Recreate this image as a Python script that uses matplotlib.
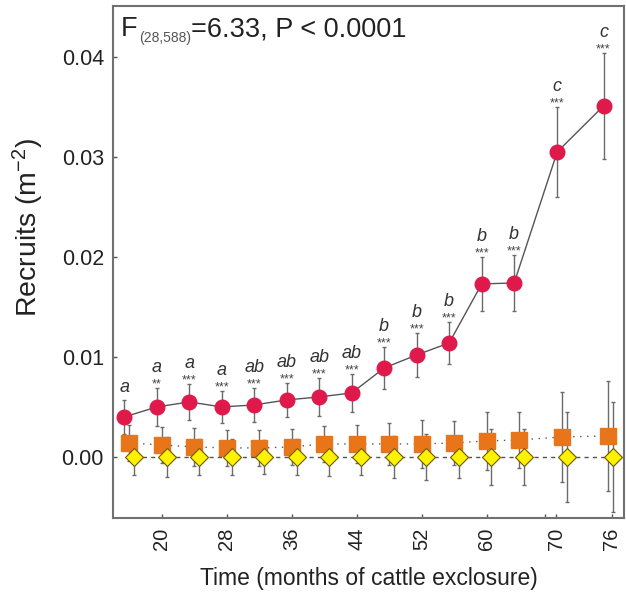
import matplotlib.pyplot as plt

plt.rcParams['font.family'] = ['Liberation Sans', 'DejaVu Sans']
plt.rcParams['mathtext.fontset'] = 'custom'
plt.rcParams['mathtext.rm'] = 'Liberation Sans'
plt.rcParams['mathtext.it'] = 'Liberation Sans:italic'

# sampling times (months of cattle exclosure)
months = [16, 20, 24, 28, 32, 36, 40, 44, 48, 52, 56, 60, 64, 69.3, 75]

# recruits per m2, mean and error
circle_mean = [0.0040, 0.0050, 0.0055, 0.0050, 0.0052, 0.0057, 0.0060, 0.0064,
               0.0089, 0.0102, 0.0114, 0.0173, 0.0174, 0.0305, 0.0351]
circle_err = [0.0017, 0.0019, 0.0018, 0.0016, 0.0017, 0.0017, 0.0019, 0.0019,
              0.0021, 0.0022, 0.0021, 0.0027, 0.0028, 0.0045, 0.0053]

square_mean = [0.0014, 0.0012, 0.0010, 0.0009, 0.0009, 0.0010, 0.0013, 0.0013,
               0.0013, 0.0013, 0.0014, 0.0016, 0.0017, 0.0020, 0.0021]
square_err = [0.0018, 0.0018, 0.0019, 0.0018, 0.0018, 0.0018, 0.0018, 0.0019,
              0.0021, 0.0024, 0.0022, 0.0029, 0.0028, 0.0045, 0.0055]

diamond_mean = [0.0, 0.0, 0.0, 0.0, 0.0, 0.0, 0.0, 0.0,
                0.0, 0.0, 0.0, 0.0, 0.0, 0.0, 0.0]
diamond_err = [0.0018, 0.0020, 0.0018, 0.0018, 0.0017, 0.0018, 0.0019, 0.0018,
               0.0021, 0.0023, 0.0021, 0.0028, 0.0028, 0.0045, 0.0055]

letters = ['a', 'a', 'a', 'a', 'ab', 'ab', 'ab', 'ab',
           'b', 'b', 'b', 'b', 'b', 'c', 'c']
stars = ['', '**', '***', '***', '***', '***', '***', '***',
         '***', '***', '***', '***', '***', '***', '***']

tick_pos = [20, 28, 36, 44, 52, 60, 67.2, 68.6, 75.4]
tick_labels = ['20', '28', '36', '44', '52', '60', '', '70', '76']

dodge = 0.6
x_circle = [m - dodge for m in months]
x_square = months
x_diamond = [m + dodge for m in months]

fig = plt.figure(figsize=(6.26, 5.96), dpi=100)
ax = fig.add_axes([0.1805, 0.131, 0.816, 0.859])

bar_kw = dict(fmt='none', ecolor='#6b6b6b', elinewidth=1.0, capsize=1.5, capthick=1.0, zorder=2)
ax.errorbar(x_square, square_mean, yerr=square_err, **bar_kw)
ax.errorbar(x_diamond, diamond_mean, yerr=diamond_err, **bar_kw)
ax.errorbar(x_circle, circle_mean, yerr=circle_err, **bar_kw)

ax.plot(x_square, square_mean, linestyle=(0, (1, 4)), color='#555555', lw=1.0,
        marker='s', markersize=11, markerfacecolor='#e8751a', markeredgecolor='#e8751a',
        zorder=3)
ax.plot(x_diamond, diamond_mean, linestyle=(0, (3, 3)), color='#555555', lw=1.0,
        marker='D', markersize=9, markerfacecolor='#fff200', markeredgecolor='#6b5a00',
        markeredgewidth=0.8, zorder=4)
ax.plot(x_circle, circle_mean, linestyle='-', color='#555555', lw=1.0,
        marker='o', markersize=10.5, markerfacecolor='#e0194b', markeredgecolor='#e0194b',
        zorder=5)

# group letters and significance stars above the circles
for x, m, e, let, st in zip(x_circle, circle_mean, circle_err, letters, stars):
    top = m + e
    if st:
        ax.annotate(st, (x, top), xytext=(0, 0.3), textcoords='offset points',
                    ha='center', va='baseline', fontsize=9, color='#444444')
        ax.annotate(let, (x, top), xytext=(0, 11.4), textcoords='offset points',
                    ha='center', va='baseline', fontsize=13, style='italic', color='#333333')
    else:
        ax.annotate(let, (x, top), xytext=(0, 5.4), textcoords='offset points',
                    ha='center', va='baseline', fontsize=13, style='italic', color='#333333')

# F statistic text, built from pieces so the subscript can be small
fig.canvas.draw()
renderer = fig.canvas.get_renderer()
t_f = ax.text(0.015, 0.941, 'F', transform=ax.transAxes, ha='left', va='baseline',
              fontsize=19.5, color='#222222')
bb = t_f.get_window_extent(renderer)
base = ax.transAxes.transform((0.015, 0.941))[1]
t_sub = ax.annotate('(28,588)', (bb.x1, base), xycoords='figure pixels', xytext=(1, -4),
                    textcoords='offset points', ha='left', va='baseline',
                    fontsize=10, color='#555555')
bb2 = t_sub.get_window_extent(renderer)
ax.annotate('=6.33, P < 0.0001', (bb2.x1, base), xycoords='figure pixels', xytext=(0, 0),
            textcoords='offset points', ha='left', va='baseline',
            fontsize=19.5, color='#222222')

ax.set_xlim(14.0, 76.9)
ax.set_ylim(-0.0061, 0.0451)
ax.set_xticks(tick_pos)
ax.set_xticklabels(tick_labels, rotation=90)
ax.set_yticks([0.0, 0.01, 0.02, 0.03, 0.04])
ax.set_yticklabels(['0.00', '0.01', '0.02', '0.03', '0.04'])
ax.tick_params(direction='in', length=3, width=1, color='#555555',
               labelcolor='#222222')
ax.tick_params(axis='y', labelsize=15.5, pad=6.5)
ax.tick_params(axis='x', labelsize=14.5, pad=7)

for s in ax.spines.values():
    s.set_color('#707070')
    s.set_linewidth(1.5)

ax.set_xlabel('Time (months of cattle exclosure)', fontsize=16.5, color='#222222', labelpad=12)
ax.set_ylabel('Recruits (m$^{-2}$)', fontsize=20.5, color='#222222')
ax.yaxis.set_label_coords(-0.131, 0.567)

fig.savefig('out.png', dpi=100)
